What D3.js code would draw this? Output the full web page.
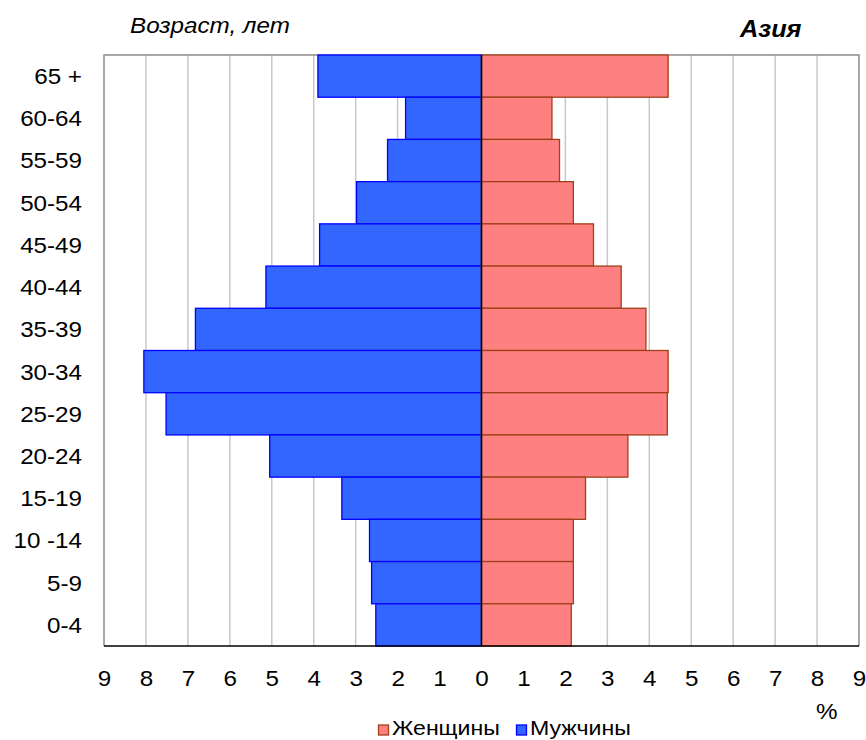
<!DOCTYPE html>
<html><head><meta charset="utf-8">
<script src="https://cdn.jsdelivr.net/npm/d3@7"></script>
<style>body{margin:0;background:#fff}svg{display:block}text{font-family:"Liberation Sans",Arial,sans-serif;fill:#000}</style>
</head><body>
<svg id="c" width="866" height="740"></svg>
<script>
const ages = ["65 +","60-64","55-59","50-54","45-49","40-44","35-39","30-34","25-29","20-24","15-19","10 -14","5-9","0-4"];
const male = [3.9,1.81,2.24,2.98,3.86,5.14,6.82,8.05,7.52,5.05,3.33,2.67,2.62,2.52];
const female = [4.45,1.68,1.86,2.19,2.67,3.33,3.92,4.45,4.43,3.49,2.48,2.19,2.19,2.14];
const ticks = [-9,-8,-7,-6,-5,-4,-3,-2,-1,0,1,2,3,4,5,6,7,8,9];

const SX = 1.1; // horizontal stretch of text (GDI-style wide rendering)
const FS = 22;

const svg = d3.select("#c");
const L=104,R=859,T=55,B=646;
const x = d3.scaleLinear().domain([-9,9]).range([L,R]);
const y = d3.scaleBand().domain(ages).range([T,B]).padding(0);

// grid
svg.append("g").selectAll("line").data(ticks.filter(t=>t!==0&&Math.abs(t)!==9)).join("line")
  .attr("x1",d=>x(d)).attr("x2",d=>x(d)).attr("y1",T).attr("y2",B)
  .attr("stroke","#c8c8c8").attr("stroke-width",1.5);
// border
svg.append("path").attr("d",`M${L},${B}V${T}H${R}V${B}`).attr("fill","none").attr("stroke","#8c8c8c").attr("stroke-width",1.5);

// bars
svg.append("g").selectAll("rect").data(ages).join("rect")
  .attr("x",(d,i)=>x(-male[i])).attr("width",(d,i)=>x(0)-x(-male[i]))
  .attr("y",d=>y(d)).attr("height",y.bandwidth())
  .attr("fill","#3366FF").attr("stroke","#0000FF").attr("stroke-width",1.3);
svg.append("g").selectAll("rect").data(ages).join("rect")
  .attr("x",x(0)).attr("width",(d,i)=>x(female[i])-x(0))
  .attr("y",d=>y(d)).attr("height",y.bandwidth())
  .attr("fill","#FF8080").attr("stroke","#A0401A").attr("stroke-width",1.3);

// center line & bottom axis line
svg.append("line").attr("x1",x(0)).attr("x2",x(0)).attr("y1",T).attr("y2",B).attr("stroke","#000").attr("stroke-width",1.5);
svg.append("line").attr("x1",L).attr("x2",R).attr("y1",B).attr("y2",B).attr("stroke","#000").attr("stroke-width",1.5);

// x axis labels
const xa = d3.axisBottom(x).tickValues(ticks).tickFormat(d=>Math.abs(d)).tickSize(0).tickPadding(0);
const gx = svg.append("g").attr("transform",`translate(0,${B+40})`).call(xa);
gx.select(".domain").remove();
gx.selectAll("text").attr("y",0).attr("dy",0).attr("font-size",FS).attr("fill","#000")
  .attr("transform",`scale(${SX},1)`);

// y axis labels
const ya = d3.axisLeft(y).tickSize(0).tickPadding(0);
const gy = svg.append("g").attr("transform",`translate(82,0)`).call(ya);
gy.select(".domain").remove();
gy.selectAll("text").attr("x",0).attr("dy","0.36em").attr("font-size",FS).attr("fill","#000")
  .attr("transform",`scale(${SX},1)`);

// titles
function txt(px,py,s,opts){
  const t = svg.append("text").attr("transform",`translate(${px},${py}) scale(${SX},1)`).attr("font-size",opts.size||FS).text(s);
  if(opts.italic) t.attr("font-style","italic");
  if(opts.bold) t.attr("font-weight","bold");
  if(opts.anchor) t.attr("text-anchor",opts.anchor);
  return t;
}
txt(130,33,"Возраст, лет",{italic:true});
txt(740,37,"Азия",{italic:true,bold:true,size:23});
txt(816,719,"%",{});

// legend
const leg = [{t:"Женщины",f:"#FF8080",s:"#A0401A",x:378},{t:"Мужчины",f:"#3366FF",s:"#0000FF",x:516}];
const lg = svg.append("g").selectAll("g").data(leg).join("g").attr("transform",d=>`translate(${d.x},0)`);
lg.append("rect").attr("x",0.5).attr("y",725).attr("width",10).attr("height",10).attr("fill",d=>d.f).attr("stroke",d=>d.s).attr("stroke-width",1.3);
lg.append("text").attr("transform",`translate(14,735) scale(${SX},1)`).attr("font-size",21).text(d=>d.t);
</script>
</body></html>
